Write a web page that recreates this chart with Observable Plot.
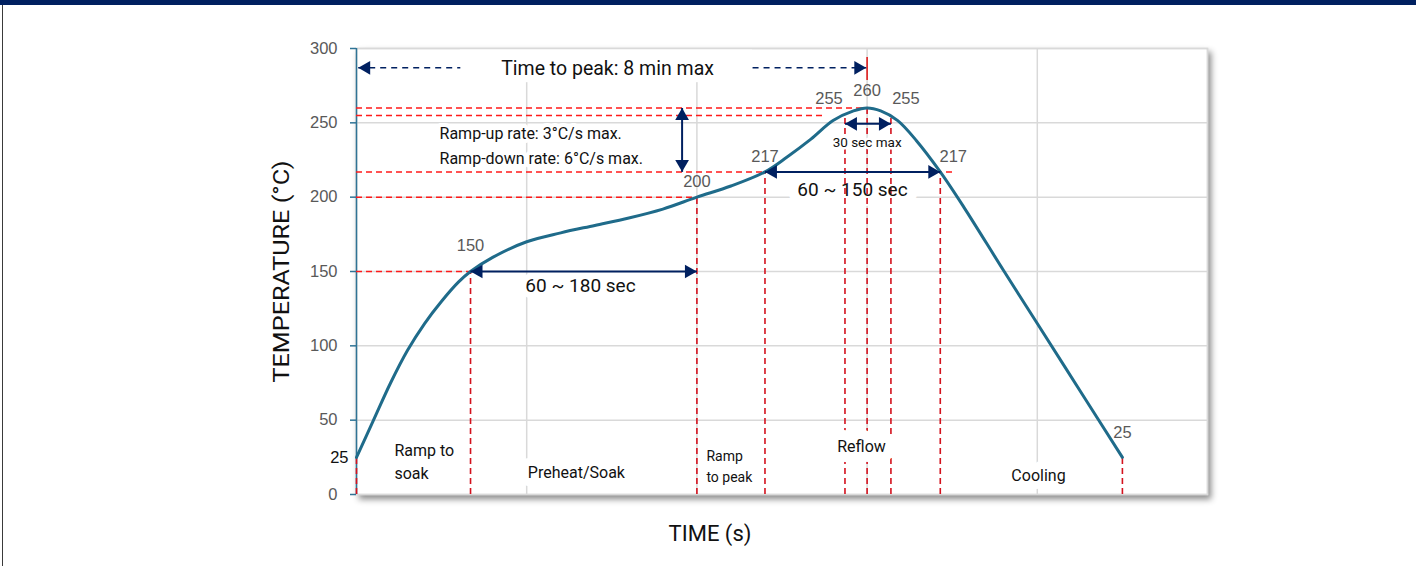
<!DOCTYPE html>
<html>
<head>
<meta charset="utf-8">
<script src="https://cdn.jsdelivr.net/npm/d3@7"></script>
<script src="https://cdn.jsdelivr.net/npm/@observablehq/plot@0.6"></script>
<style>
  html, body { margin: 0; padding: 0; background: #fff; }
  #wrap { position: relative; width: 1416px; height: 566px; overflow: hidden; background: #fff; }
  #chart { position: absolute; left: 0; top: 0; }
  #topbar { position: absolute; left: 0; top: 0; width: 1416px; height: 5px; background: #002060; }
  #leftline { position: absolute; left: 2px; top: 5px; width: 1px; height: 561px; background: #3a3a3a; }
</style>
</head>
<body>
<div id="wrap"><div id="chart"></div><div id="topbar"></div><div id="leftline"></div></div>
<script>
// ---------------- data ----------------
// reflow profile (time in s, temperature in °C)
const profileTime = [0, 10, 20, 30, 40, 50, 60, 67, 80, 100, 120, 140, 160, 180, 200, 220, 240, 253, 267, 280, 292, 300, 308, 318, 329, 343, 357, 380, 400, 425, 450];
const profileTemp = [25, 50, 75, 97, 115, 130, 143, 150, 159.5, 170, 176, 181, 186, 192, 200, 207.5, 217, 227, 239, 251.5, 258, 260, 258, 251.5, 238, 217, 193, 151, 115, 70, 25];

// axes
const yTicks = [0, 50, 100, 150, 200, 250, 300];
const yGrid = [50, 100, 150, 200, 250];
const xGrid = [100, 200, 300, 400];
const xDomain = [0, 500];
const yDomain = [0, 300];

// key points of the profile and their labels
const keyTime = [67, 200, 240, 287, 300, 314, 343, 450];
const keyTemp = [150, 200, 217, 255, 260, 255, 217, 25];
const keyLabel = ["150", "200", "217", "255", "260", "255", "217", "25"];

// reference temperature lines (horizontal dashed): temperature, end time
const refTemp = [260, 255, 217, 200, 150];
const refEnd = [300, 275.5, 352, 200, 67];

// vertical dashed lines: time, top temperature
const markTime = [0, 67, 200, 240, 287, 300, 314, 343, 450];
const markTop = [25, 150, 200, 217, 253, 260, 253, 217, 25];

// phases
const phaseName = ["Ramp to\nsoak", "Preheat/Soak", "Ramp\nto peak", "Reflow", "Cooling"];

// spans
const soakSpan = [67, 200];      // 60 ~ 180 sec at 150 °C
const reflowSpan = [240, 343];   // 60 ~ 150 sec at 217 °C
const peakSpan = [287, 314];     // 30 sec max near 255 °C
const rampSpan = [217, 260];     // ramp rate arrow (temperatures)
const peakTime = 300;

// ---------------- styles ----------------
const NAVY = "#002060";
const CURVE = "#1f6b8a";
const RED_H = "#ff1a1a";
const RED_V = "#d4121e";
const GRID = "#d9d9d9";
const AXIS = "#2f7395";
const LABEL = "#595959";
const TXT = "#111";
const SANS = "Roboto";
const NUM = "Liberation Sans";

const idx = arr => arr.map((_, i) => i);
const profile = profileTime.map((t, i) => ({t, temp: profileTemp[i]}));

// arrowheads as filled triangles
const TRI_R = 5.1, TRI_OFF = 8;
function head(points, dir) {
  const rot = {right: 90, left: -90, up: 0, down: 180}[dir];
  const dx = dir === "right" ? -TRI_OFF : dir === "left" ? TRI_OFF : 0;
  const dy = dir === "up" ? TRI_OFF : dir === "down" ? -TRI_OFF : 0;
  return Plot.dot(points, {x: "t", y: "temp", symbol: "triangle", r: TRI_R, fill: NAVY, stroke: "none", rotate: rot, dx, dy});
}
function seg(t1, t2, y1, y2, opts = {}) {
  return Plot.link([{t1, t2, y1, y2}], {x1: "t1", x2: "t2", y1: "y1", y2: "y2", stroke: NAVY, strokeWidth: 2, ...opts});
}
function note(t, temp, text, opts = {}) {
  return Plot.text([{t, temp, text}], {x: "t", y: "temp", text: "text", fontFamily: SANS, fill: TXT, ...opts});
}
function halo(t, temp, text, size, w, opts = {}) {
  return note(t, temp, text, {fontSize: size, fill: "white", stroke: "white", strokeWidth: w, ...opts});
}

// text annotation anchors (data coordinates)
const ttp = {t: 147.5, temp: 286.5};
const arrowTemp = 287;
const rateNote = {t: 48.8, temp: 236.4};
const soakNote = {t: 131.6, temp: 140};
const reflowNote = {t: 291.4, temp: 205};
const peakNote = {t: 300, temp: 236.7};
const phasePos = [[22.3, 23.2], [129.2, 14.8], [205.6, 19.8], [296.7, 32.3], [400.7, 12.8]];
const valueOffsets = [[0, -26], [0, -15], [0, -15], [-16, -17], [0, -17], [15, -17], [13, -15], [0, -25]];

const Y_TITLE = "TEMPERATURE (°C)";
const X_TITLE = "TIME (s)";

const marks = [
  Plot.frame({fill: "white", stroke: GRID, strokeWidth: 1.5}),
  Plot.ruleY(yGrid, {stroke: GRID, strokeWidth: 1.5}),
  Plot.ruleX(xGrid, {stroke: GRID, strokeWidth: 1.5}),
  // white box behind the "time to peak" text
  Plot.rect([{a: 61, b: 232.7}], {x1: "a", x2: "b", y1: 277, y2: 300, fill: "white"}),
  Plot.frame({stroke: GRID, strokeWidth: 1.5}),
  // halos that hide grid lines behind labels
  halo(rateNote.t, rateNote.temp, "Ramp-up rate: 3°C/s max.\nRamp-down rate: 6°C/s max.", 16, 8, {textAnchor: "start", lineHeight: 1.56}),
  halo(soakNote.t, soakNote.temp, "60 ~ 180 sec", 19, 12),
  halo(reflowNote.t, reflowNote.temp, "60 ~ 150 sec", 19, 20),
  halo(phasePos[1][0], phasePos[1][1], phaseName[1], 16, 16),
  halo(phasePos[4][0], phasePos[4][1], phaseName[4], 16, 16),
  // y axis line
  Plot.ruleX([0], {stroke: AXIS, strokeWidth: 1.5}),
  // red reference lines
  Plot.ruleY(idx(refTemp), {y: i => refTemp[i], x1: 0, x2: i => refEnd[i], stroke: RED_H, strokeWidth: 1.5, strokeDasharray: "6,4"}),
  Plot.ruleX(idx(markTime), {x: i => markTime[i], y1: 0, y2: i => markTop[i], stroke: RED_V, strokeWidth: 1.6, strokeDasharray: "6,4"}),
  Plot.ruleX([peakTime], {y1: 278.4, y2: 294, stroke: "#e01010", strokeWidth: 1.5}),
  // profile curve
  Plot.line(profile, {x: "t", y: "temp", curve: "catmull-rom", stroke: CURVE, strokeWidth: 3}),
  // arrows
  seg(soakSpan[0], soakSpan[1], 150, 150),
  seg(reflowSpan[0], reflowSpan[1], 217, 217),
  seg(peakSpan[0], peakSpan[1], 249.3, 249.3),
  seg(191.3, 191.3, rampSpan[0], rampSpan[1]),
  seg(1, 61, arrowTemp, arrowTemp, {strokeWidth: 1.5, strokeDasharray: "6,5"}),
  seg(232.7, 299.5, arrowTemp, arrowTemp, {strokeWidth: 1.5, strokeDasharray: "6,5"}),
  head([{t: soakSpan[1], temp: 150}, {t: reflowSpan[1], temp: 217}, {t: peakSpan[1], temp: 249.3}, {t: 299.5, temp: arrowTemp}], "right"),
  head([{t: soakSpan[0], temp: 150}, {t: reflowSpan[0], temp: 217}, {t: peakSpan[0], temp: 249.3}, {t: 1, temp: arrowTemp}], "left"),
  head([{t: 191.3, temp: rampSpan[1]}], "up"),
  head([{t: 191.3, temp: rampSpan[0]}], "down"),
  // annotation texts
  note(ttp.t, ttp.temp, "Time to peak: 8 min max", {fontSize: 19.5}),
  note(rateNote.t, rateNote.temp, "Ramp-up rate: 3°C/s max.\nRamp-down rate: 6°C/s max.", {fontSize: 16, textAnchor: "start", lineHeight: 1.56}),
  note(soakNote.t, soakNote.temp, "60 ~ 180 sec", {fontSize: 19}),
  note(reflowNote.t, reflowNote.temp, "60 ~ 150 sec", {fontSize: 19}),
  note(peakNote.t, peakNote.temp, "30 sec max", {fontSize: 13.5, stroke: "white", strokeWidth: 5}),
  // phase labels
  note(phasePos[0][0], phasePos[0][1], phaseName[0], {fontSize: 16, textAnchor: "start", lineHeight: 1.44}),
  note(phasePos[1][0], phasePos[1][1], phaseName[1], {fontSize: 16}),
  note(phasePos[2][0], phasePos[2][1], phaseName[2], {fontSize: 14, textAnchor: "start", lineHeight: 1.5}),
  note(phasePos[3][0], phasePos[3][1], phaseName[3], {fontSize: 16, stroke: "white", strokeWidth: 20}),
  note(phasePos[4][0], phasePos[4][1], phaseName[4], {fontSize: 16}),
  // key value labels
  ...keyTime.map((t, i) => Plot.text([i], {
    x: () => keyTime[i], y: () => keyTemp[i], text: () => keyLabel[i],
    dx: valueOffsets[i][0], dy: valueOffsets[i][1],
    fontFamily: NUM, fontSize: 16.5, fill: LABEL
  })),
  // y axis
  Plot.axisY({ticks: yTicks, tickSize: 6, tickPadding: 13, stroke: AXIS, strokeWidth: 1.5, fill: LABEL, fontSize: 16.5, fontFamily: NUM, label: null, tickFormat: d => String(d)}),
  Plot.text([25], {x: 0, y: d => d, text: d => String(d), dx: -8, textAnchor: "end", fontFamily: NUM, fontSize: 16.5, fill: "#111"}),
  // axis titles
  Plot.text([Y_TITLE], {frameAnchor: "left", textAnchor: "middle", lineAnchor: "middle", rotate: -90, dx: -75, fontFamily: SANS, fontSize: 22, fill: TXT}),
  Plot.text([X_TITLE], {frameAnchor: "bottom", textAnchor: "middle", lineAnchor: "middle", dx: -72, dy: 39, fontFamily: SANS, fontSize: 22, fill: TXT})
];

const chart = Plot.plot({
  width: 1416,
  height: 566,
  marginLeft: 356,
  marginRight: 209,
  marginTop: 48,
  marginBottom: 72,
  x: {domain: xDomain, axis: null},
  y: {domain: yDomain, axis: null},
  style: {background: "transparent", fontFamily: SANS, overflow: "visible"},
  marks
});

const fr = chart.querySelector('[aria-label="frame"]');
if (fr) fr.style.filter = "drop-shadow(3px 4px 3px rgba(0,0,0,0.45))";
// widen the y title glyphs to the reference length
chart.querySelectorAll("text").forEach(el => {
  if (el.textContent === Y_TITLE) { el.setAttribute("textLength", "222"); el.setAttribute("lengthAdjust", "spacingAndGlyphs"); }
});
document.getElementById("chart").appendChild(chart);
</script>
</body>
</html>
